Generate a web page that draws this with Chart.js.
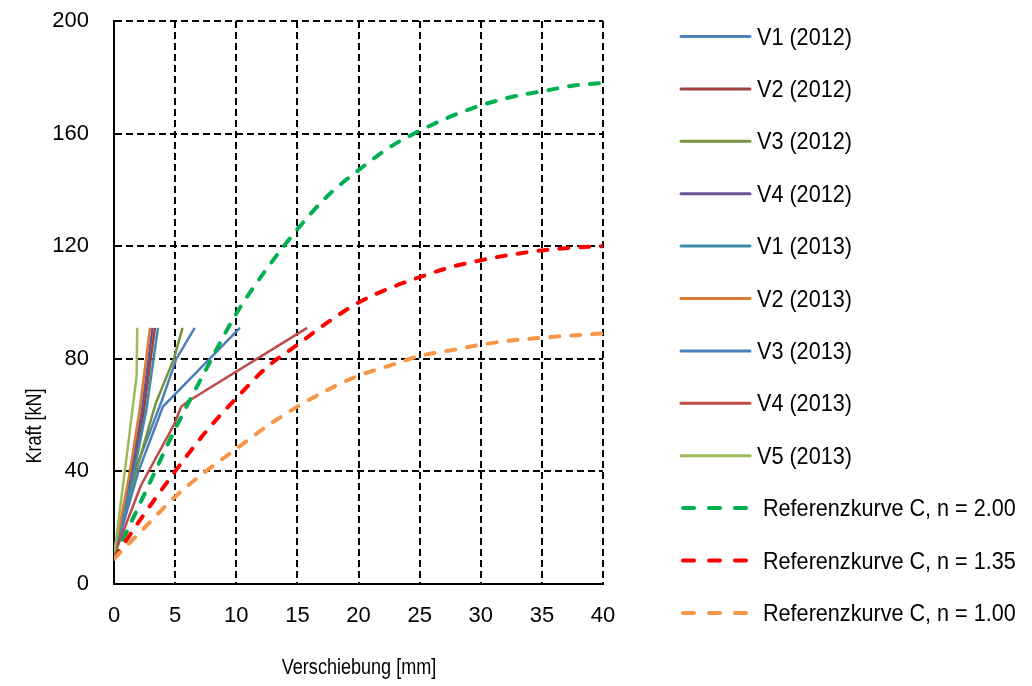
<!DOCTYPE html>
<html>
<head>
<meta charset="utf-8">
<script src="https://cdn.jsdelivr.net/npm/chart.js@4.4.1/dist/chart.umd.min.js"></script>
<style>
  html, body { margin: 0; padding: 0; background: #fff; }
  #wrap { width: 1032px; height: 686px; }
</style>
</head>
<body>
<div id="wrap"><canvas id="c" width="1032" height="686"></canvas></div>
<script>
// ---------- data ----------
const xTicks = [0, 5, 10, 15, 20, 25, 30, 35, 40];
const yTicks = [0, 40, 80, 120, 160, 200];

// test series (displacement in mm, force in kN)
const v1_2012_x = [0, 1.7, 3.9, 5.1, 6.6];
const v1_2012_y = [10, 40, 65, 80, 91];
const v2_2012_x = [0, 1.55, 2.45, 3.35];
const v2_2012_y = [10, 40, 62, 91];
const v3_2012_x = [0, 1.8, 3.4, 4.9, 5.6];
const v3_2012_y = [10, 40, 64, 80, 91];
const v4_2012_x = [0, 1.45, 2.3, 3.15];
const v4_2012_y = [10, 40, 62, 91];
const v1_2013_x = [0, 1.65, 2.65, 3.6];
const v1_2013_y = [10, 40, 62, 91];
const v2_2013_x = [0, 1.3, 2.1, 2.95];
const v2_2013_y = [10, 40, 62, 91];
const v3_2013_x = [0, 2.0, 4.0, 10.3];
const v3_2013_y = [10, 40, 63, 91];
const v4_2013_x = [0, 2.2, 4.9, 5.5, 6.1, 15.8];
const v4_2013_y = [10, 35, 56.5, 63, 65, 91];
const v5_2013_x = [0, 1.0, 1.85, 1.9];
const v5_2013_y = [10, 44, 74, 91];

// reference curves
const refX      = [0, 2.5, 5, 7.5, 10, 12.5, 15, 17.5, 20, 22.5, 25, 27.5, 30, 32.5, 35, 37.5, 40];
const ref_n200  = [9, 32, 55, 76, 96, 112, 126, 138, 147, 155, 161, 166, 170, 173, 175, 177, 178];
const ref_n135  = [9, 25, 40, 54, 66, 77, 85, 93, 100, 105, 109, 112.5, 115, 117, 118.5, 119.5, 120];
const ref_n100  = [9, 20, 31, 40, 48, 56, 63, 69, 74, 77.5, 81, 83, 85, 86.5, 87.5, 88.3, 89];

const labels = ['V1 (2012)', 'V2 (2012)', 'V3 (2012)', 'V4 (2012)', 'V1 (2013)', 'V2 (2013)',
                'V3 (2013)', 'V4 (2013)', 'V5 (2013)',
                'Referenzkurve C, n = 2.00', 'Referenzkurve C, n = 1.35', 'Referenzkurve C, n = 1.00'];

// ---------- build ----------
const pts = (xs, ys) => xs.map((x, i) => ({ x: x, y: ys[i] }));

function solid(label, xs, ys, color) {
  return { label, data: pts(xs, ys), borderColor: color, backgroundColor: color,
           borderWidth: 2.5, pointRadius: 0, showLine: true, tension: 0, fill: false,
           borderJoinStyle: 'round' };
}
function dashed(label, xs, ys, color) {
  return { label, data: pts(xs, ys), borderColor: color, backgroundColor: color,
           borderWidth: 4, pointRadius: 0, showLine: true, cubicInterpolationMode: 'monotone',
           borderDash: [9, 12], borderCapStyle: 'round', fill: false, isDashed: true };
}

const datasets = [
  solid(labels[0], v1_2012_x, v1_2012_y, '#4F81BD'),
  solid(labels[1], v2_2012_x, v2_2012_y, '#A0413D'),
  solid(labels[2], v3_2012_x, v3_2012_y, '#77933C'),
  solid(labels[3], v4_2012_x, v4_2012_y, '#6A5294'),
  solid(labels[4], v1_2013_x, v1_2013_y, '#3B8CA4'),
  solid(labels[5], v2_2013_x, v2_2013_y, '#DA7C35'),
  solid(labels[6], v3_2013_x, v3_2013_y, '#4A7EBB'),
  solid(labels[7], v4_2013_x, v4_2013_y, '#BE4B48'),
  solid(labels[8], v5_2013_x, v5_2013_y, '#9BBB59'),
  dashed(labels[9], refX, ref_n200, '#00B050'),
  dashed(labels[10], refX, ref_n135, '#FF0000'),
  dashed(labels[11], refX, ref_n100, '#F79646')
];
// later series on top (Excel-like)
datasets.forEach((d, i) => { d.order = datasets.length - i; });

const FONT = '"Liberation Sans", Arial, sans-serif';

function narrowText(ctx, text, x, y, size, sx, align) {
  ctx.save();
  ctx.font = size + 'px ' + FONT;
  ctx.textBaseline = 'middle';
  ctx.textAlign = align;
  ctx.translate(x, y);
  ctx.scale(sx, 1);
  ctx.fillText(text, 0, 0);
  ctx.restore();
}

const extras = {
  id: 'extras',
  afterDraw(chart) {
    const ctx = chart.ctx;
    ctx.save();
    ctx.fillStyle = '#000';
    // axis titles
    narrowText(ctx, 'Verschiebung [mm]', 359, 668, 22, 0.82, 'center');
    ctx.save();
    ctx.translate(35, 426);
    ctx.rotate(-Math.PI / 2);
    narrowText(ctx, 'Kraft [kN]', 0, 0, 22, 0.82, 'center');
    ctx.restore();

    // legend
    const x0 = 681, x1 = 750, yStart = 36.5, step = 52.4;
    chart.data.datasets.forEach((ds, i) => {
      const y = yStart + i * step;
      ctx.save();
      ctx.strokeStyle = ds.borderColor;
      if (ds.isDashed) {
        ctx.lineWidth = 4;
        ctx.lineCap = 'round';
        ctx.setLineDash([11, 15]);
        ctx.beginPath(); ctx.moveTo(x0 + 2, y); ctx.lineTo(x1, y); ctx.stroke();
      } else {
        ctx.lineWidth = 3;
        ctx.lineCap = 'round';
        ctx.beginPath(); ctx.moveTo(x0, y); ctx.lineTo(x1, y); ctx.stroke();
      }
      ctx.restore();
      ctx.fillStyle = '#000';
      narrowText(ctx, ds.label, ds.isDashed ? 763 : 757, y + 1.5, 24, 0.9, 'left');
    });
    ctx.restore();
  }
};

function zeroPad(s) { s.paddingTop = 0; s.paddingBottom = 0; s.paddingLeft = 0; s.paddingRight = 0; }

new Chart(document.getElementById('c'), {
  type: 'scatter',
  data: { datasets },
  plugins: [extras],
  options: {
    responsive: false,
    animation: false,
    devicePixelRatio: 1,
    layout: { padding: { left: 0, top: 21, right: 429, bottom: 0 } },
    plugins: { legend: { display: false }, tooltip: { enabled: false }, title: { display: false } },
    scales: {
      x: {
        type: 'linear', min: 0, max: 40,
        afterFit: (s) => { s.height = 102; zeroPad(s); },
        afterBuildTicks: (s) => { s.ticks = xTicks.map(v => ({ value: v })); },
        ticks: { font: { family: FONT, size: 22 }, color: '#000', padding: 19, maxRotation: 0 },
        grid: { color: '#000', lineWidth: 2, drawTicks: false },
        border: { display: true, color: '#000', width: 2, dash: [7, 4] }
      },
      y: {
        type: 'linear', min: 0, max: 200,
        afterFit: (s) => { s.width = 114; zeroPad(s); },
        afterBuildTicks: (s) => { s.ticks = yTicks.map(v => ({ value: v })); },
        ticks: { font: { family: FONT, size: 22 }, color: '#000', padding: 25 },
        grid: { color: '#000', lineWidth: 2, drawTicks: false },
        border: { display: true, color: '#000', width: 2, dash: [7, 4] }
      }
    }
  }
});
</script>
</body>
</html>
